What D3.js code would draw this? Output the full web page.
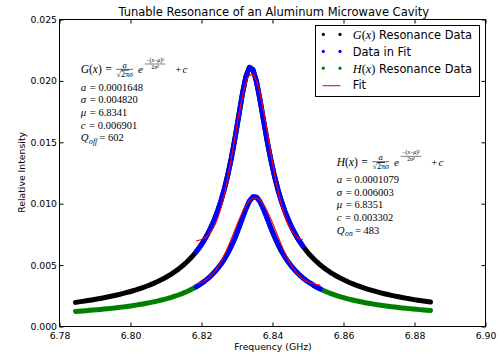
<!DOCTYPE html>
<html><head><meta charset="utf-8">
<script src="https://cdn.jsdelivr.net/npm/d3@7"></script>
<style>
body{margin:0;background:#fff}
svg{display:block}
text{font-family:"DejaVu Sans",sans-serif;fill:#000}
.m{font-family:"Liberation Serif",serif}
</style>
</head><body><svg id="c" width="499" height="358"></svg>
<script>
// ---------- data ----------
const freq = [
6.7845,6.7855,6.7865,6.7875,6.7885,6.7895,6.7905,6.7915,6.7925,6.7935,
6.7945,6.7955,6.7965,6.7975,6.7985,6.7995,6.8005,6.8015,6.8025,6.8035,
6.8045,6.8055,6.8065,6.8075,6.8085,6.8095,6.8105,6.8115,6.8125,6.8135,
6.8145,6.8155,6.8165,6.8175,6.8185,6.8195,6.8205,6.8215,6.8225,6.8235,
6.8245,6.8255,6.8265,6.8275,6.8285,6.8295,6.8305,6.8315,6.8325,6.8335,
6.8345,6.8355,6.8365,6.8375,6.8385,6.8395,6.8405,6.8415,6.8425,6.8435,
6.8445,6.8455,6.8465,6.8475,6.8485,6.8495,6.8505,6.8515,6.8525,6.8535,
6.8545,6.8555,6.8565,6.8575,6.8585,6.8595,6.8605,6.8615,6.8625,6.8635,
6.8645,6.8655,6.8665,6.8675,6.8685,6.8695,6.8705,6.8715,6.8725,6.8735,
6.8745,6.8755,6.8765,6.8775,6.8785,6.8795,6.8805,6.8815,6.8825,6.8835,
6.8845];
const gData = [
0.001964,0.002004,0.002046,0.002090,0.002136,0.002183,0.002233,0.002285,0.002340,0.002397,
0.002458,0.002521,0.002588,0.002658,0.002732,0.002810,0.002893,0.002980,0.003074,0.003173,
0.003279,0.003392,0.003513,0.003642,0.003782,0.003932,0.004094,0.004271,0.004463,0.004672,
0.004902,0.005153,0.005433,0.005741,0.006087,0.006473,0.006911,0.007405,0.007971,0.008618,
0.009371,0.010247,0.011269,0.012465,0.013853,0.015442,0.017173,0.018909,0.020343,0.021095,
0.020919,0.019927,0.018426,0.016743,0.015104,0.013617,0.012312,0.011183,0.010212,0.009376,
0.008653,0.008024,0.007474,0.006990,0.006562,0.006181,0.005840,0.005533,0.005256,0.005004,
0.004775,0.004566,0.004373,0.004196,0.004033,0.003881,0.003741,0.003609,0.003487,0.003373,
0.003266,0.003165,0.003070,0.002981,0.002897,0.002817,0.002742,0.002670,0.002602,0.002537,
0.002476,0.002417,0.002362,0.002308,0.002257,0.002208,0.002161,0.002117,0.002074,0.002032,
0.001992];
const hData = [
0.001227,0.001247,0.001269,0.001291,0.001314,0.001338,0.001364,0.001390,0.001418,0.001447,
0.001477,0.001509,0.001543,0.001578,0.001615,0.001655,0.001696,0.001740,0.001786,0.001835,
0.001888,0.001944,0.002003,0.002067,0.002135,0.002209,0.002288,0.002373,0.002466,0.002566,
0.002676,0.002796,0.002927,0.003072,0.003233,0.003412,0.003611,0.003836,0.004089,0.004377,
0.004706,0.005085,0.005520,0.006023,0.006604,0.007265,0.008008,0.008800,0.009576,0.010214,
0.010567,0.010534,0.010156,0.009537,0.008803,0.008054,0.007349,0.006712,0.006149,0.005656,
0.005227,0.004851,0.004522,0.004232,0.003976,0.003749,0.003546,0.003363,0.003199,0.003050,
0.002915,0.002791,0.002678,0.002575,0.002479,0.002390,0.002308,0.002232,0.002161,0.002095,
0.002033,0.001975,0.001920,0.001869,0.001820,0.001775,0.001731,0.001690,0.001652,0.001615,
0.001580,0.001546,0.001514,0.001484,0.001455,0.001427,0.001401,0.001375,0.001351,0.001327,
0.001305];
const gFitRange = [6.8185, 6.8485];
const hFitRange = [6.8185, 6.8535];
const gFit = [
0.006973,0.007040,0.007156,0.007349,0.007655,0.008116,0.008778,0.009678,0.010836,0.012243,
0.013847,0.015552,0.017221,0.018694,0.019810,0.020436,0.020494,0.019978,0.018951,0.017537,
0.015894,0.014183,0.012550,0.011099,0.009888,0.008938,0.008231,0.007733,0.007400,0.007187,
0.007058];
const hFit = [
0.003459,0.003547,0.003675,0.003853,0.004094,0.004411,0.004811,0.005298,0.005872,0.006520,
0.007220,0.007943,0.008649,0.009293,0.009831,0.010223,0.010437,0.010457,0.010281,0.009922,
0.009410,0.008784,0.008087,0.007364,0.006656,0.005996,0.005406,0.004901,0.004484,0.004151,
0.003895,0.003706,0.003569,0.003474,0.003409,0.003367];
const xTicks = [6.78, 6.80, 6.82, 6.84, 6.86, 6.88, 6.90];
const yTicks = [0.000, 0.005, 0.010, 0.015, 0.020, 0.025];
const titleText = "Tunable Resonance of an Aluminum Microwave Cavity";
const xLabel = "Frequency (GHz)";
const yLabel = "Relative Intensity";
const legendNames = ["G", "Data in Fit", "H", "Fit"];
const gParams = [["a","","0.0001648"],["σ","","0.004820"],["μ","","6.8341"],["c","","0.006901"],["Q","off","602"]];
const hParams = [["a","","0.0001079"],["σ","","0.006003"],["μ","","6.8351"],["c","","0.003302"],["Q","on","483"]];

// ---------- drawing ----------
const svg = d3.select("#c");
const L = 59.5, R = 485.5, T = 19.5, B = 326.5;
const x = d3.scaleLinear().domain([6.78, 6.90]).range([L, R]);
const y = d3.scaleLinear().domain([0, 0.025]).range([B, T]);

const pts = (fs, vs) => fs.map((f, i) => [f, vs[i]]);
const gPts = pts(freq, gData), hPts = pts(freq, hData);
const inR = r => f => f >= r[0] - 1e-9 && f <= r[1] + 1e-9;
const gIn = gPts.filter(p => inR(gFitRange)(p[0])), hIn = hPts.filter(p => inR(hFitRange)(p[0]));
const gFitPts = pts(freq.filter(inR(gFitRange)), gFit);
const hFitPts = pts(freq.filter(inR(hFitRange)), hFit);

const line = d3.line().x(d => x(d[0])).y(d => y(d[1]));
const smooth = d3.line().x(d => x(d[0])).y(d => y(d[1])).curve(d3.curveCatmullRom);
const plot = svg.append("g");
function band(p, col) {
  plot.append("path").attr("d", line(p)).attr("fill", "none").attr("stroke", col)
    .attr("stroke-width", 5).attr("stroke-linejoin", "round").attr("stroke-linecap", "round");
}
band(gPts, "#000");
band(gIn, "#0000ff");
band(hPts, "#008000");
band(hIn, "#0000ff");
[gFitPts, hFitPts].forEach(p => plot.append("path").attr("d", smooth(p)).attr("fill", "none")
  .attr("stroke", "#ff0000").attr("stroke-width", 1.1));

// axes (inward ticks on all sides)
const fx = d3.format(".2f"), fy = d3.format(".3f");
const ax = [
  svg.append("g").attr("transform", `translate(0,${B})`).call(d3.axisBottom(x).tickValues(xTicks).tickFormat(fx).tickSize(-4).tickPadding(5.5)),
  svg.append("g").attr("transform", `translate(0,${T})`).call(d3.axisTop(x).tickValues(xTicks).tickFormat("").tickSize(-4)),
  svg.append("g").attr("transform", `translate(${L},0)`).call(d3.axisLeft(y).tickValues(yTicks).tickFormat(fy).tickSize(-4).tickPadding(2.5)),
  svg.append("g").attr("transform", `translate(${R},0)`).call(d3.axisRight(y).tickValues(yTicks).tickFormat("").tickSize(-4))
];
ax.forEach(g => {
  g.select(".domain").remove();
  g.selectAll("line").attr("stroke", "#000");
  g.selectAll("text").attr("font-size", "9.3px").attr("font-family", "DejaVu Sans").attr("fill", "#000");
});
svg.append("rect").attr("x", L).attr("y", T).attr("width", R - L).attr("height", B - T)
  .attr("fill", "none").attr("stroke", "#000").attr("stroke-width", 1);

svg.append("text").attr("x", 273.7).attr("y", 15.5).attr("text-anchor", "middle")
  .attr("font-size", "11.5px").text(titleText);
svg.append("text").attr("x", 273).attr("y", 349.5).attr("text-anchor", "middle")
  .attr("font-size", "9.3px").text(xLabel);
svg.append("text").attr("transform", "translate(24.5,172.4) rotate(-90)").attr("text-anchor", "middle")
  .attr("font-size", "9.3px").text(yLabel);

// legend
const lg = svg.append("g");
lg.append("rect").attr("x", 315.5).attr("y", 25.5).attr("width", 164).attr("height", 71)
  .attr("fill", "#fff").attr("stroke", "#000").attr("stroke-width", 1);
const rowsY = [38.7, 55.7, 72.5, 89.3];
const mCols = ["#000", "#0000ff", "#008000"];
mCols.forEach((c, i) => [323.3, 340].forEach(cx =>
  lg.append("circle").attr("cx", cx).attr("cy", rowsY[i] - 4.3).attr("r", 1.6).attr("fill", c)));
lg.append("line").attr("x1", 322.5).attr("x2", 340.5).attr("y1", 85.7).attr("y2", 85.7)
  .attr("stroke", "#ff0000").attr("stroke-width", 1.1);
legendNames.forEach((n, i) => {
  const t = lg.append("text").attr("x", 352.7).attr("y", rowsY[i]).attr("font-size", "11.4px");
  if (n === "G" || n === "H") {
    t.append("tspan").attr("class", "m").attr("font-style", "italic").attr("font-size", "12.4px").text(n);
    t.append("tspan").attr("class", "m").attr("font-size", "12.4px").text("(");
    t.append("tspan").attr("class", "m").attr("font-style", "italic").attr("font-size", "12.4px").text("x");
    t.append("tspan").attr("class", "m").attr("font-size", "12.4px").text(")");
    t.append("tspan").text(" Resonance Data");
  } else t.text(n);
});

// ---------- math-like annotations ----------
function centered(cx, yb, size, pieces) {
  const t = svg.append("text").attr("class", "m").attr("x", cx).attr("y", yb)
    .attr("text-anchor", "middle").attr("font-size", size + "px");
  pieces.forEach(p => {
    const s = t.append("tspan").text(p.t);
    if (p.it) s.attr("font-style", "italic");
    if (p.ov) s.style("text-decoration", "overline");
  });
}
function hbar(x1, x2, yy, w) {
  svg.append("line").attr("x1", x1).attr("x2", x2).attr("y1", yy).attr("y2", yy)
    .attr("stroke", "#000").attr("stroke-width", w);
}
function formula(x0, yb, name) {
  const t = svg.append("text").attr("class", "m").attr("x", x0).attr("y", yb).attr("font-size", "11.5px");
  t.append("tspan").attr("font-style", "italic").text(name);
  t.append("tspan").text("(");
  t.append("tspan").attr("font-style", "italic").text("x");
  t.append("tspan").text(")");
  t.append("tspan").attr("dx", 3.5).text("=");
  // a / (sqrt(2 pi) sigma)
  hbar(x0 + 35.6, x0 + 52.3, yb - 4, 0.6);
  centered(x0 + 44, yb - 5.8, 8.5, [{t: "a", it: true}]);
  centered(x0 + 44, yb + 3.4, 8, [{t: "√"}, {t: "2π", ov: true}, {t: "σ", it: true}]);
  // e^{-(x-mu)^2 / (2 sigma^2)}
  svg.append("text").attr("class", "m").attr("x", x0 + 57.3).attr("y", yb).attr("font-size", "11px")
    .attr("font-style", "italic").text("e");
  hbar(x0 + 64, x0 + 84.6, yb - 9.3, 0.5);
  centered(x0 + 74.3, yb - 11.4, 5.8, [{t: "−("}, {t: "x", it: true}, {t: "−"}, {t: "μ", it: true}, {t: ")²"}]);
  centered(x0 + 74.3, yb - 4.4, 5.8, [{t: "2"}, {t: "σ", it: true}, {t: "²"}]);
  const pc = svg.append("text").attr("class", "m").attr("x", x0 + 94.6).attr("y", yb).attr("font-size", "11px");
  pc.append("tspan").text("+");
  pc.append("tspan").attr("dx", 1).attr("font-style", "italic").text("c");
}
function params(x0, y0, list) {
  list.forEach((p, i) => {
    const t = svg.append("text").attr("class", "m").attr("x", x0).attr("y", y0 + i * 12.6)
      .attr("font-size", "10.8px");
    t.append("tspan").attr("font-style", "italic").text(p[0]);
    if (p[1]) t.append("tspan").attr("font-style", "italic").attr("font-size", "7.6px")
      .attr("dx", 0.6).attr("dy", 2.4).text(p[1]);
    t.append("tspan").attr("dx", p[1] ? 2.2 : 3.6).attr("dy", p[1] ? -2.4 : 0).text("=");
    t.append("tspan").attr("dx", 2.6).attr("font-size", "10.5px").text(p[2]);
  });
}
formula(80.7, 73.3, "G");
params(80.7, 90.7, gParams);
formula(336.7, 165.7, "H");
params(336.7, 183.1, hParams);
</script>
</body></html>
